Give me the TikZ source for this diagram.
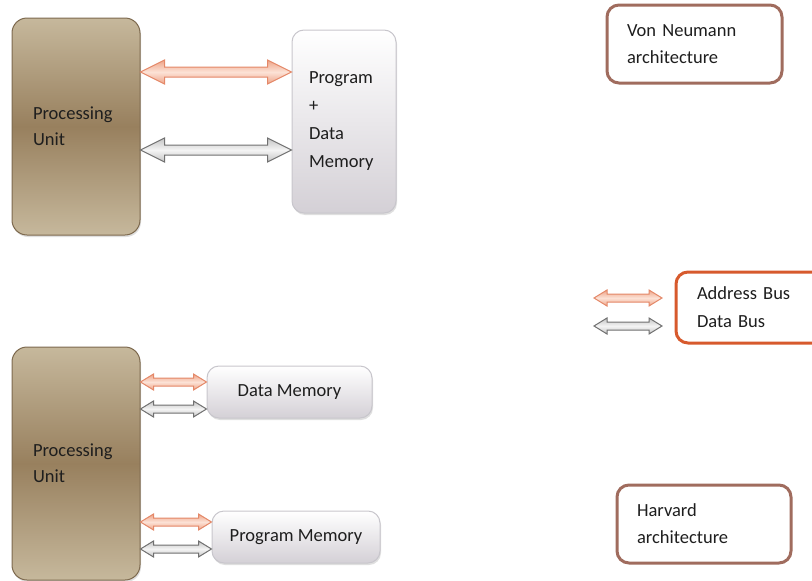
\documentclass[tikz,border=0pt]{standalone}
\usepackage{fontspec}
\setmainfont{Carlito}
\usetikzlibrary{calc,shadows}
\definecolor{pubrown}{RGB}{152,128,94}
\definecolor{pulight}{RGB}{198,184,156}
\definecolor{puedge}{RGB}{125,105,78}
\definecolor{memedge}{RGB}{200,198,204}
\definecolor{memlow}{RGB}{212,208,214}
\definecolor{addrdark}{RGB}{228,136,104}
\definecolor{addrfill}{RGB}{238,164,136}
\definecolor{addrlight}{RGB}{252,226,214}
\definecolor{datadark}{RGB}{112,112,112}
\definecolor{datafill}{RGB}{196,196,196}
\definecolor{datalight}{RGB}{244,244,244}
\definecolor{archedge}{RGB}{160,108,94}
\definecolor{legedge}{RGB}{215,90,45}
\definecolor{textgray}{RGB}{30,30,30}
\tikzset{
    % processing unit blocks
    pubox/.style={
        rectangle, rounded corners=15pt,
        draw=puedge, line width=1pt,
        top color=pulight, bottom color=pulight, middle color=pubrown,
        drop shadow={opacity=0.25, shadow xshift=1pt, shadow yshift=-2pt},
        text width=86pt, inner xsep=21pt, align=left,
        font=\fontsize{18.5}{26}\selectfont, text=textgray
    },
    membox/.style={
        rectangle, rounded corners=12pt,
        draw=memedge, line width=1pt,
        top color=white, bottom color=memlow,
        drop shadow={opacity=0.25, shadow xshift=1pt, shadow yshift=-2pt},
        font=\fontsize{18.5}{28}\selectfont, text=textgray
    },
    archbox/.style={
        rectangle, rounded corners=12pt,
        draw=archedge, line width=3pt, fill=white,
        align=left, inner xsep=20pt,
        font=\fontsize{18.5}{27}\selectfont, text=textgray
    },
    % double headed bus arrow: head length, head half width, shaft half width
    busarrow/.style n args={3}{to path={
        let \p1=(\tikztostart), \p2=(\tikztotarget) in
        (\x1,\y1) -- (\x1+#1,\y1+#2) -- (\x1+#1,\y1+#3) -- (\x2-#1,\y1+#3)
        -- (\x2-#1,\y1+#2) -- (\x2,\y1) -- (\x2-#1,\y1-#2) -- (\x2-#1,\y1-#3)
        -- (\x1+#1,\y1-#3) -- (\x1+#1,\y1-#2) -- cycle
    }},
    bigbus/.style={busarrow={24pt}{12pt}{5pt}},
    smallbus/.style={busarrow={13pt}{8pt}{4pt}},
    addrbus/.style={draw=addrdark, line width=1pt,
        top color=addrfill, bottom color=addrfill, middle color=addrlight},
    databus/.style={draw=datadark, line width=1pt,
        top color=datafill, bottom color=datafill, middle color=datalight}
}

\begin{document}
\begin{tikzpicture}[x=1pt,y=-1pt]
    \useasboundingbox (0,0) rectangle (812,581);

    % Von Neumann
    \node[pubox, minimum height=217pt] (pu1) at (76,126.5) {Processing\\Unit};
    \node[membox, text width=70pt, inner xsep=17pt, align=left,
          minimum height=183pt] (mem1) at (344,121.5)
          {Program\\+\\Data\\Memory};
    \path[bigbus, addrbus] (pu1.east |- 0,72) to (mem1.west |- 0,72);
    \path[bigbus, databus] (pu1.east |- 0,150) to (mem1.west |- 0,150);

    % Harvard
    \node[pubox, minimum height=233pt] (pu2) at (76,463.5) {Processing\\Unit};
    \node[membox, minimum width=165pt, minimum height=52pt] (dmem) at (289.5,392) {Data Memory};
    \node[membox, minimum width=168pt, minimum height=52pt] (pmem) at (296,537) {Program Memory};
    \path[smallbus, addrbus] (pu2.east |- 0,382) to (dmem.west |- 0,382);
    \path[smallbus, databus] (pu2.east |- 0,409) to (dmem.west |- 0,409);
    \path[smallbus, addrbus] (pu2.east |- 0,522) to (pmem.west |- 0,522);
    \path[smallbus, databus] (pu2.east |- 0,549) to (pmem.west |- 0,549);

    % labels
    \node[archbox, text width=135pt, minimum height=78pt] (vonlabel) at (694.5,44)
        {Von Neumann\\architecture};
    \node[archbox, text width=134pt, minimum height=78pt] (harlabel) at (704,524)
        {Harvard\\architecture};

    % legend
    \node[archbox, draw=legedge, text width=118pt, inner xsep=21pt,
          minimum height=71pt, font=\fontsize{18.5}{28}\selectfont] (legend) at (756,307.5)
        {Address Bus\\Data Bus};
    \coordinate (la1) at (594,298);
    \coordinate (la2) at (662,298);
    \coordinate (ld1) at (594,326);
    \coordinate (ld2) at (662,326);
    \path[smallbus, addrbus] (la1) to (la2);
    \path[smallbus, databus] (ld1) to (ld2);
\end{tikzpicture}
\end{document}
